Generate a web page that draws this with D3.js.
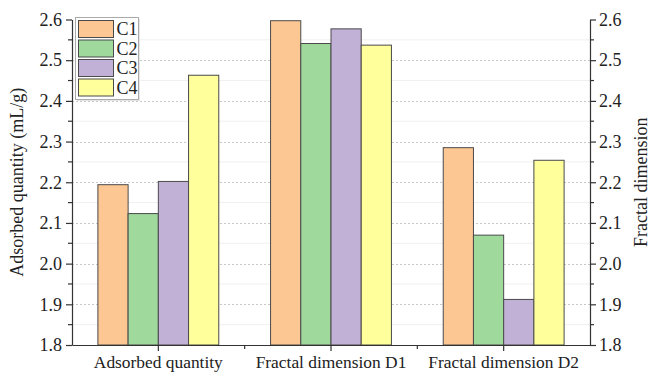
<!DOCTYPE html>
<html>
<head>
<meta charset="utf-8">
<script src="https://cdn.jsdelivr.net/npm/d3@7"></script>
<style>
  body { margin: 0; background: #fff; }
  svg { display: block; }
  svg text { font-family: 'Liberation Serif', 'Times New Roman', Times, 'DejaVu Serif', serif !important; }
</style>
</head>
<body>
<svg id="chart" width="651" height="372"></svg>
<script>
// Groups along the x axis and the four samples
const categories = ["Adsorbed quantity", "Fractal dimension D1", "Fractal dimension D2"];
const seriesNames = ["C1", "C2", "C3", "C4"];
const C1 = [2.194, 2.597, 2.285];
const C2 = [2.123, 2.541, 2.070];
const C3 = [2.202, 2.577, 1.912];
const C4 = [2.463, 2.537, 2.254];
const yTicks = [1.8, 1.9, 2.0, 2.1, 2.2, 2.3, 2.4, 2.5, 2.6];
const colors = ["#FDC793", "#9FD99C", "#C2B1D6", "#FFFF9C"];

const values = [C1, C2, C3, C4];
const svg = d3.select("#chart");
const plotLeft = 72, plotRight = 590, plotTop = 19.5, plotBottom = 345;

const x = d3.scaleBand().domain(categories).range([plotLeft, plotRight]).paddingInner(0).paddingOuter(0);
const xs = d3.scaleBand().domain(seriesNames).range([0, x.bandwidth() * 0.7]);
const y = d3.scaleLinear().domain([1.8, 2.6]).range([plotBottom, plotTop]);

// Grid lines: faint at half steps, dotted at labelled steps
const minorVals = d3.range(1.85, 2.6, 0.1);
svg.append("g").selectAll("line").data(minorVals).join("line")
  .attr("x1", plotLeft).attr("x2", plotRight)
  .attr("y1", d => y(d)).attr("y2", d => y(d))
  .attr("stroke", "#f0f0f0").attr("stroke-width", 1);
svg.append("g").selectAll("line").data(yTicks.slice(1, -1)).join("line")
  .attr("x1", plotLeft).attr("x2", plotRight)
  .attr("y1", d => Math.round(y(d)) + 0.5).attr("y2", d => Math.round(y(d)) + 0.5)
  .attr("stroke", "#c8c8c8").attr("stroke-width", 1).attr("stroke-dasharray", "2,2");

// Bars
const groupOffset = x.bandwidth() * 0.15;
seriesNames.forEach((s, i) => {
  svg.append("g").selectAll("rect").data(values[i]).join("rect")
    .attr("x", (d, j) => x(categories[j]) + groupOffset + xs(s))
    .attr("y", d => y(d))
    .attr("width", xs.bandwidth())
    .attr("height", d => y(1.8) - y(d))
    .attr("fill", colors[i])
    .attr("stroke", "#4a4a4a").attr("stroke-width", 1);
});

// Axes
const fmt = d3.format(".1f");
const axisStyle = (g, size) => {
  g.attr("font-family", null);
  g.selectAll("path, line").attr("stroke", "#333").attr("stroke-width", 1.2);
  g.selectAll("text").attr("font-size", size).attr("fill", "#222");
};
const minorY = d3.range(1.85, 2.6, 0.1);

const yl = svg.append("g").attr("transform", `translate(${plotLeft},0)`)
  .call(d3.axisLeft(y).tickValues(yTicks).tickFormat(fmt).tickSize(6).tickSizeOuter(0).tickPadding(4));
yl.call(axisStyle, 18);
yl.selectAll(".minor").data(minorY).join("line").attr("class", "minor")
  .attr("x1", 0).attr("x2", -4).attr("y1", d => y(d)).attr("y2", d => y(d))
  .attr("stroke", "#333").attr("stroke-width", 1.2);

const yr = svg.append("g").attr("transform", `translate(${plotRight},0)`)
  .call(d3.axisRight(y).tickValues(yTicks).tickFormat(fmt).tickSize(6).tickSizeOuter(0).tickPadding(3));
yr.call(axisStyle, 18);
yr.selectAll(".minor").data(minorY).join("line").attr("class", "minor")
  .attr("x1", 0).attr("x2", 4).attr("y1", d => y(d)).attr("y2", d => y(d))
  .attr("stroke", "#333").attr("stroke-width", 1.2);

const xa = svg.append("g").attr("transform", `translate(0,${plotBottom})`)
  .call(d3.axisBottom(x).tickSize(6).tickSizeOuter(0).tickPadding(5));
xa.call(axisStyle, 17.4);
const bounds = categories.slice(1).map(c => x(c));
xa.selectAll(".minor").data(bounds).join("line").attr("class", "minor")
  .attr("x1", d => d).attr("x2", d => d).attr("y1", 0).attr("y2", 4)
  .attr("stroke", "#333").attr("stroke-width", 1.2);

// Axis titles
svg.append("text")
  .attr("transform", `translate(23,${(plotTop + plotBottom) / 2}) rotate(-90)`)
  .attr("text-anchor", "middle").attr("font-size", 18).attr("fill", "#222")
  .text("Adsorbed quantity (mL/g)");
svg.append("text")
  .attr("transform", `translate(647,${(plotTop + plotBottom) / 2}) rotate(-90)`)
  .attr("text-anchor", "middle").attr("font-size", 18).attr("fill", "#222")
  .text("Fractal dimension");

// Legend
const lg = svg.append("g").attr("transform", "translate(75.5,17.5)");
lg.append("rect").attr("x", 1.5).attr("y", 1.5).attr("width", 63).attr("height", 82)
  .attr("fill", "#e6e6e6");
lg.append("rect").attr("width", 63).attr("height", 82)
  .attr("fill", "#fff").attr("stroke", "#aaa").attr("stroke-width", 1);
seriesNames.forEach((s, i) => {
  lg.append("rect").attr("x", 3).attr("y", 3 + i * 19.5).attr("width", 35).attr("height", 17)
    .attr("fill", colors[i]).attr("stroke", "#4a4a4a").attr("stroke-width", 1);
  lg.append("text").attr("x", 41).attr("y", 17.5 + i * 19.5)
    .attr("font-size", 18).attr("fill", "#222").text(s);
});
</script>
</body>
</html>
